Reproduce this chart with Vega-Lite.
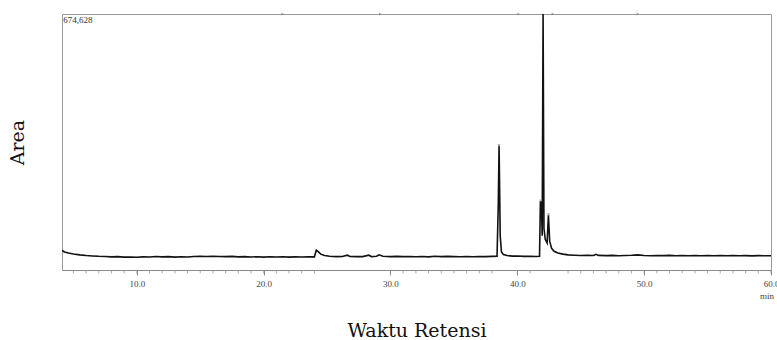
{
  "$schema": "https://vega.github.io/schema/vega-lite/v6.json",
  "width": 709,
  "height": 256,
  "autosize": "none",
  "padding": {"left": 62, "top": 14, "right": 6, "bottom": 70},
  "background": "white",
  "config": {
    "view": {"stroke": "#9a9a9a", "strokeWidth": 1},
    "font": "Liberation Serif"
  },
  "datasets": {
    "trace": [
      {"t": 4.1, "v": 19000}, {"t": 4.3, "v": 15000}, {"t": 4.6, "v": 12000}, {"t": 5.0, "v": 9500},
      {"t": 5.5, "v": 7000}, {"t": 6.0, "v": 5000}, {"t": 6.5, "v": 4000}, {"t": 7.0, "v": 3000},
      {"t": 7.5, "v": 2500}, {"t": 8.0, "v": 1500}, {"t": 8.5, "v": 2200}, {"t": 9.0, "v": 800},
      {"t": 9.5, "v": 1200}, {"t": 10.0, "v": 300}, {"t": 10.5, "v": 1500}, {"t": 11.0, "v": 900},
      {"t": 11.5, "v": 2500}, {"t": 12.0, "v": 1500}, {"t": 12.5, "v": 2200}, {"t": 13.0, "v": 800},
      {"t": 13.5, "v": 1800}, {"t": 14.0, "v": 1200}, {"t": 14.5, "v": 2600}, {"t": 15.0, "v": 3000},
      {"t": 15.5, "v": 2400}, {"t": 16.0, "v": 3200}, {"t": 16.5, "v": 2500}, {"t": 17.0, "v": 2000},
      {"t": 17.5, "v": 2800}, {"t": 18.0, "v": 1500}, {"t": 18.5, "v": 2200}, {"t": 19.0, "v": 1200},
      {"t": 19.5, "v": 1800}, {"t": 20.0, "v": 800}, {"t": 20.5, "v": 1600}, {"t": 21.0, "v": 1000},
      {"t": 21.5, "v": 1800}, {"t": 22.0, "v": 700}, {"t": 22.5, "v": 1500}, {"t": 23.0, "v": 900},
      {"t": 23.5, "v": 1600}, {"t": 24.0, "v": 1500}, {"t": 24.15, "v": 20000}, {"t": 24.3, "v": 16000},
      {"t": 24.5, "v": 9000}, {"t": 24.8, "v": 5000}, {"t": 25.2, "v": 3000}, {"t": 25.7, "v": 2000},
      {"t": 26.2, "v": 2500}, {"t": 26.6, "v": 6000}, {"t": 26.8, "v": 2500}, {"t": 27.3, "v": 2000},
      {"t": 27.8, "v": 2200}, {"t": 28.3, "v": 6000}, {"t": 28.5, "v": 2000}, {"t": 28.9, "v": 3000},
      {"t": 29.1, "v": 7000}, {"t": 29.4, "v": 3000}, {"t": 30.0, "v": 2200}, {"t": 30.5, "v": 2800},
      {"t": 31.0, "v": 2000}, {"t": 31.5, "v": 2600}, {"t": 32.0, "v": 1800}, {"t": 32.5, "v": 2500},
      {"t": 33.0, "v": 1500}, {"t": 33.5, "v": 3000}, {"t": 34.0, "v": 2000}, {"t": 34.5, "v": 2800},
      {"t": 35.0, "v": 2200}, {"t": 35.5, "v": 1600}, {"t": 36.0, "v": 2500}, {"t": 36.5, "v": 1800},
      {"t": 37.0, "v": 2600}, {"t": 37.5, "v": 2000}, {"t": 38.0, "v": 2800}, {"t": 38.4, "v": 3000},
      {"t": 38.5, "v": 150000}, {"t": 38.56, "v": 310000}, {"t": 38.65, "v": 60000}, {"t": 38.75, "v": 15000},
      {"t": 38.9, "v": 8000}, {"t": 39.2, "v": 5000}, {"t": 39.6, "v": 3500}, {"t": 40.0, "v": 4000},
      {"t": 40.5, "v": 2800}, {"t": 41.0, "v": 3200}, {"t": 41.5, "v": 2600}, {"t": 41.75, "v": 3000},
      {"t": 41.82, "v": 156000}, {"t": 41.9, "v": 150000}, {"t": 41.96, "v": 60000}, {"t": 42.03, "v": 674628},
      {"t": 42.1, "v": 80000}, {"t": 42.2, "v": 50000}, {"t": 42.35, "v": 40000}, {"t": 42.45, "v": 118000},
      {"t": 42.55, "v": 45000}, {"t": 42.7, "v": 25000}, {"t": 42.9, "v": 17000}, {"t": 43.2, "v": 12000},
      {"t": 43.6, "v": 9000}, {"t": 44.0, "v": 7000}, {"t": 44.5, "v": 6000}, {"t": 45.0, "v": 5000},
      {"t": 45.5, "v": 5800}, {"t": 46.0, "v": 5200}, {"t": 46.2, "v": 8500}, {"t": 46.4, "v": 5500},
      {"t": 47.0, "v": 4800}, {"t": 47.5, "v": 5600}, {"t": 48.0, "v": 4500}, {"t": 48.5, "v": 5200},
      {"t": 49.0, "v": 5800}, {"t": 49.5, "v": 6800}, {"t": 50.0, "v": 5200}, {"t": 50.5, "v": 4600},
      {"t": 51.0, "v": 5400}, {"t": 51.5, "v": 4800}, {"t": 52.0, "v": 5600}, {"t": 52.5, "v": 4400},
      {"t": 53.0, "v": 5000}, {"t": 53.5, "v": 4600}, {"t": 54.0, "v": 5400}, {"t": 54.5, "v": 4500},
      {"t": 55.0, "v": 5200}, {"t": 55.5, "v": 4400}, {"t": 56.0, "v": 5000}, {"t": 56.5, "v": 4300},
      {"t": 57.0, "v": 5100}, {"t": 57.5, "v": 4500}, {"t": 58.0, "v": 4900}, {"t": 58.5, "v": 4200},
      {"t": 59.0, "v": 4800}, {"t": 59.5, "v": 4300}, {"t": 60.0, "v": 4500}
    ],
    "peaks": [
      {"t": 38.56, "v": 310000},
      {"t": 41.84, "v": 156000},
      {"t": 42.47, "v": 118000}
    ],
    "events": [
      {"t": 21.5}, {"t": 29.2}, {"t": 40.1}, {"t": 42.8}, {"t": 49.5}
    ],
    "labels": [
      {"t": 4.2, "v": 674628, "txt": "674,628", "kind": "max"},
      {"t": 60.0, "v": -35000, "txt": "min", "kind": "unit"}
    ]
  },
  "layer": [
    {
      "data": {"name": "trace"},
      "mark": {"type": "line", "color": "#111111", "strokeWidth": 1.6, "clip": true},
      "encoding": {
        "x": {
          "field": "t", "type": "quantitative",
          "scale": {"domain": [4.1, 60], "nice": false, "zero": false},
          "axis": {
            "values": [10, 20, 30, 40, 50, 60],
            "format": ".1f",
            "grid": false,
            "domainColor": "#8a8a8a",
            "tickColor": "#8a8a8a",
            "tickSize": 5,
            "labelFont": "Liberation Serif",
            "labelFontSize": 9,
            "labelColor": "#444444",
            "labelPadding": 4,
            "labelFlush": false,
            "title": "Waktu Retensi",
            "titleFont": "DejaVu Serif",
            "titleFontSize": 19,
            "titleFontWeight": "normal",
            "titleColor": "#111111",
            "titlePadding": 33
          }
        },
        "y": {
          "field": "v", "type": "quantitative",
          "scale": {"domain": [-35000, 674628], "nice": false, "zero": false},
          "axis": {
            "labels": false,
            "ticks": false,
            "grid": false,
            "domain": false,
            "title": "Area",
            "titleFont": "DejaVu Serif",
            "titleFontSize": 19,
            "titleFontWeight": "normal",
            "titleColor": "#111111",
            "titlePadding": 35
          }
        }
      }
    },
    {
      "data": {"name": "trace"},
      "mark": {"type": "tick", "color": "#8a8a8a", "size": 3, "thickness": 1, "yOffset": 2},
      "transform": [{"filter": "datum.t >= 5 && datum.t == floor(datum.t)"}],
      "encoding": {
        "x": {"field": "t", "type": "quantitative"},
        "y": {"datum": -35000, "type": "quantitative"}
      }
    },
    {
      "data": {"name": "peaks"},
      "mark": {"type": "point", "shape": "triangle-down", "size": 12, "filled": true, "color": "#999999"},
      "encoding": {
        "x": {"field": "t", "type": "quantitative"},
        "y": {"field": "v", "type": "quantitative"}
      }
    },
    {
      "data": {"name": "events"},
      "mark": {"type": "point", "shape": "triangle-right", "size": 8, "filled": true, "color": "#777777"},
      "encoding": {
        "x": {"field": "t", "type": "quantitative"},
        "y": {"datum": 674628, "type": "quantitative"}
      }
    },
    {
      "data": {"name": "labels"},
      "transform": [{"filter": "datum.kind == 'max'"}],
      "mark": {"type": "text", "align": "left", "baseline": "top", "dy": 2, "font": "Liberation Serif", "fontSize": 9, "color": "#333333"},
      "encoding": {
        "x": {"field": "t", "type": "quantitative"},
        "y": {"field": "v", "type": "quantitative"},
        "text": {"field": "txt"}
      }
    },
    {
      "data": {"name": "labels"},
      "transform": [{"filter": "datum.kind == 'unit'"}],
      "mark": {"type": "text", "align": "center", "baseline": "middle", "dy": 26, "dx": -4, "font": "Liberation Serif", "fontSize": 9, "color": "#444444"},
      "encoding": {
        "x": {"field": "t", "type": "quantitative"},
        "y": {"field": "v", "type": "quantitative"},
        "text": {"field": "txt"}
      }
    }
  ]
}
